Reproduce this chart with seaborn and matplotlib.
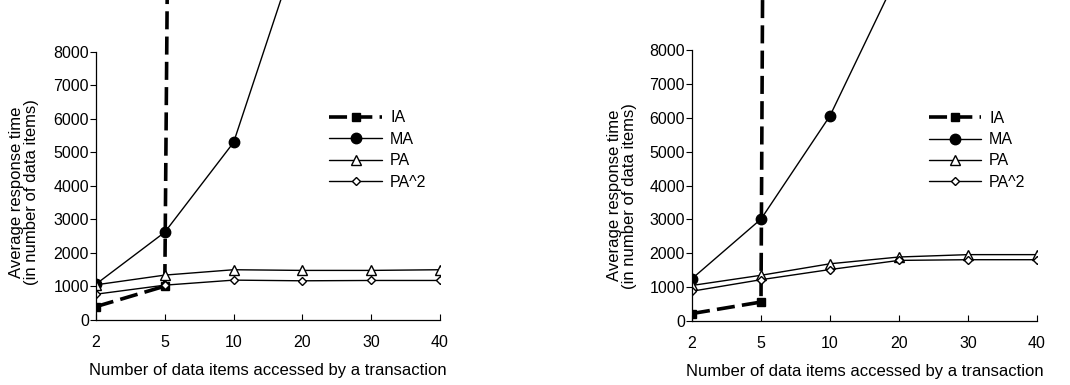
import numpy as np
import pandas as pd
import matplotlib
matplotlib.use("Agg")
import matplotlib.pyplot as plt
import seaborn as sns

# data (values far above the axis are only there to
# give the off-chart direction of the IA / MA lines)
categories = ["2", "5", "10", "20", "30", "40"]
series_names = ["IA", "MA", "PA", "PA^2"]

left_ia = [400, 1010, 250000, np.nan, np.nan, np.nan]
left_ma = [1070, 2620, 5300, 11500, np.nan, np.nan]
left_pa = [1050, 1340, 1500, 1480, 1480, 1500]
left_pa2 = [770, 1040, 1190, 1170, 1180, 1180]

right_ia = [220, 560, 400000, np.nan, np.nan, np.nan]
right_ma = [1250, 3010, 6060, 10300, np.nan, np.nan]
right_pa = [1050, 1350, 1690, 1890, 1960, 1960]
right_pa2 = [880, 1220, 1520, 1790, 1810, 1810]

y_ticks = [0, 1000, 2000, 3000, 4000, 5000, 6000, 7000, 8000]

styles = {
    "IA": dict(marker="s", markersize=6, markerfacecolor="black", lw=2.6, dashes=(5, 2)),
    "MA": dict(marker="o", markersize=7.5, markerfacecolor="black", lw=1.0, dashes=""),
    "PA": dict(marker="^", markersize=6.5, markerfacecolor="white", lw=1.0, dashes=""),
    "PA^2": dict(marker="D", markersize=4.5, markerfacecolor="white", lw=1.0, dashes=""),
}

sns.set_theme(style="white")
plt.rcParams["font.family"] = ["Liberation Sans", "DejaVu Sans"]
plt.rcParams["text.color"] = "black"
plt.rcParams["axes.labelcolor"] = "black"
plt.rcParams["xtick.color"] = "black"
plt.rcParams["ytick.color"] = "black"


def make_df(ia, ma, pa, pa2):
    rows = []
    pos = np.arange(len(categories))
    for name, vals in zip(series_names, [ia, ma, pa, pa2]):
        for p, v in zip(pos, vals):
            rows.append({"pos": p, "value": v, "series": name})
    return pd.DataFrame(rows)


def draw(ax, df, ytop, label_xy, legend_anchor):
    for name in series_names:
        sub = df[df["series"] == name].dropna()
        st = dict(styles[name])
        dashes = st.pop("dashes")
        sns.lineplot(data=sub, x="pos", y="value", ax=ax, color="black",
                     markeredgecolor="black", markeredgewidth=1.0,
                     label=name, **st)
        if dashes:
            ax.lines[-1].set_dashes(dashes)
    ax.set_xlim(0, len(categories) - 1)
    ax.set_ylim(0, ytop)
    ax.set_xticks(np.arange(len(categories)))
    ax.set_xticklabels(categories)
    ax.set_yticks(y_ticks)
    ax.spines["top"].set_visible(False)
    ax.spines["right"].set_visible(False)
    ax.spines["left"].set_bounds(0, 8000)
    for s in ["left", "bottom"]:
        ax.spines[s].set_color("black")
        ax.spines[s].set_linewidth(0.9)
    ax.tick_params(axis="y", direction="out", length=4, width=0.8, color="black",
                   labelsize=11.5, pad=1, left=True, labelcolor="black")
    ax.tick_params(axis="x", direction="in", length=4, width=0.8, color="black",
                   labelsize=11.5, pad=11, bottom=True, labelcolor="black")
    ax.set_xlabel("Number of data items accessed by a transaction", fontsize=12,
                  labelpad=9, color="black")
    ax.set_ylabel("Average response time\n(in number of data items)", fontsize=12,
                  linespacing=1.0, color="black")
    ax.yaxis.set_label_coords(*label_xy)
    ax.grid(False)
    leg = ax.legend(loc="upper left", bbox_to_anchor=legend_anchor, frameon=False,
                    fontsize=11.5, handlelength=3.3, labelspacing=0.4, handletextpad=0.5,
                    borderaxespad=0)
    for t in leg.get_texts():
        t.set_color("black")


fig = plt.figure(figsize=(10.7, 3.85), dpi=100)
ax1 = fig.add_axes([96 / 1070, 65 / 385, 344 / 1070, 320 / 385])
ax2 = fig.add_axes([692 / 1070, 64 / 385, 345 / 1070, 321 / 385])

draw(ax1, make_df(left_ia, left_ma, left_pa, left_pa2), 9550, (-0.165, 0.40), (0.66, 0.675))
draw(ax2, make_df(right_ia, right_ma, right_pa, right_pa2), 9480, (-0.16, 0.39), (0.667, 0.675))

fig.savefig("out.png", dpi=100)
